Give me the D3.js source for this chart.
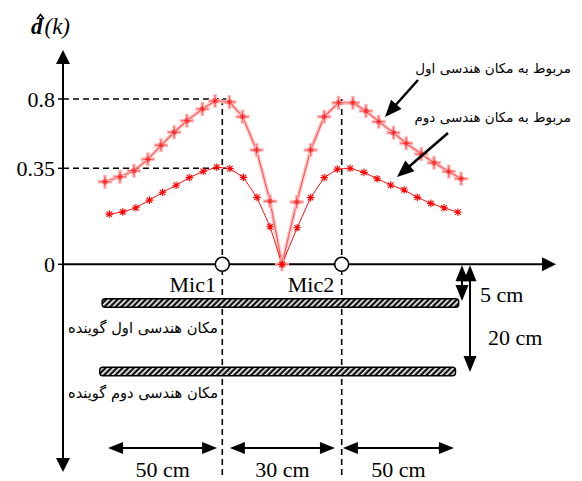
<!DOCTYPE html>
<html><head><meta charset="utf-8">
<script src="https://cdn.jsdelivr.net/npm/d3@7"></script>
<style>body{margin:0;background:#fff}svg{display:block}</style>
</head><body>
<script>
// ---- data ----
const posCurve1 = [-44.5,-40.7,-37.2,-33.7,-30.4,-27.1,-23.9,-20.0,-16.8,-13.2,-9.9,-6.4,-3.0,0,3.7,7.2,10.6,14.2,17.8,21.1,24.3,28.0,31.2,35.0,38.2,41.9,45.0];
const valCurve1 = [0.301,0.319,0.341,0.408,0.499,0.584,0.659,0.735,0.787,0.780,0.685,0.469,0.230,0,0.227,0.469,0.685,0.776,0.776,0.722,0.653,0.581,0.512,0.443,0.386,0.338,0.312];
const posCurve2 = [-43.4,-40.0,-36.7,-33.3,-30.0,-26.6,-23.3,-19.8,-16.4,-13.1,-9.7,-6.3,-3.0,0,3.8,7.2,10.6,13.9,17.1,20.6,23.9,27.3,30.7,34.0,37.4,40.7,44.2];
const valCurve2 = [0.183,0.191,0.206,0.234,0.2625,0.288,0.316,0.339,0.357,0.349,0.317,0.244,0.137,0,0.133,0.243,0.316,0.347,0.350,0.335,0.312,0.289,0.271,0.244,0.222,0.206,0.190];
const yTickValues = [0, 0.35, 0.8];
const yTickLabels = ["0", "0.35", "0.8"];
const micNames = ["Mic1", "Mic2"];
const micPos = [-15, 15];
const dimFrom = [-43.7, -13.1, 15.3];
const dimTo = [-16.3, 13.3, 43.2];
const dimLabels = ["50 cm", "30 cm", "50 cm"];
const barFrom = [-45.2, -45.8];
const barTo = [44.4, 43.6];
const barLabels = ["مکان هندسی اول گوینده", "مکان هندسی دوم گوینده"];
const curveLabels = ["مربوط به مکان هندسی اول", "مربوط به مکان هندسی دوم"];
const depthLabels = ["5 cm", "20 cm"];

// ---- layout ----
const W = 582, H = 481;
const svg = d3.select("body").append("svg").attr("width", W).attr("height", H);
const x = d3.scaleLinear().domain([-15, 15]).range([222.3, 341.7]);
const y = d3.scaleLinear().domain([0, 0.35, 0.8]).range([264.3, 168.3, 99]);
const axX = 63, axY = y(0);
const serif = "'Liberation Serif','Times New Roman',serif";
const arab = "'DejaVu Sans',sans-serif";

const defs = svg.append("defs");
const pat = defs.append("pattern").attr("id","hatch").attr("patternUnits","userSpaceOnUse")
  .attr("width",4).attr("height",4).attr("patternTransform","rotate(45)");
pat.append("rect").attr("width",4).attr("height",4).attr("fill","#111");
pat.append("rect").attr("x",0).attr("width",1.6).attr("height",4).attr("fill","#fff");

function tri(g, tx, ty, angle, len, half) {
  const bx = tx - len*Math.cos(angle), by = ty - len*Math.sin(angle);
  const px = -Math.sin(angle)*half, py = Math.cos(angle)*half;
  g.append("path").attr("d", `M${tx},${ty}L${bx+px},${by+py}L${bx-px},${by-py}Z`).attr("fill","#000");
}

// dashed guide lines
const g0 = svg.append("g").attr("stroke","#000").attr("stroke-width",1.6).attr("stroke-dasharray","6,4").attr("fill","none");
g0.append("line").attr("x1",axX).attr("x2",x(micPos[0])+4).attr("y1",y(0.8)).attr("y2",y(0.8));
g0.append("line").attr("x1",axX).attr("x2",x(micPos[0])+4).attr("y1",y(0.35)).attr("y2",y(0.35));
micPos.forEach(p => g0.append("line").attr("x1",x(p)).attr("x2",x(p)).attr("y1",y(0.8)).attr("y2",477));

// hatched bars
barFrom.forEach((b,i) => {
  const yy = [303, 371.5][i];
  svg.append("rect").attr("x",x(b)).attr("y",yy-4.3).attr("width",x(barTo[i])-x(b)).attr("height",8.6)
    .attr("rx",3).attr("fill","url(#hatch)").attr("stroke","#000").attr("stroke-width",1.4);
  svg.append("text").attr("x",218).attr("y",[333,398][i]).attr("text-anchor","end")
    .attr("font-family",arab).attr("font-size",15)
    .attr("textLength",150).attr("lengthAdjust","spacingAndGlyphs").text(barLabels[i]);
});

// axes
const ga = svg.append("g");
ga.append("line").attr("x1",axX).attr("x2",axX).attr("y1",60).attr("y2",462).attr("stroke","#000").attr("stroke-width",2);
tri(ga, axX, 50, -Math.PI/2, 14, 7);
tri(ga, axX, 472, Math.PI/2, 14, 7);
ga.append("line").attr("x1",axX).attr("x2",546).attr("y1",axY).attr("y2",axY).attr("stroke","#000").attr("stroke-width",2);
tri(ga, 556, axY, 0, 14, 7);
yTickValues.forEach((v,i) => {
  ga.append("line").attr("x1",axX-5).attr("x2",axX).attr("y1",y(v)).attr("y2",y(v)).attr("stroke","#000").attr("stroke-width",1.5);
  ga.append("text").attr("x", 55).attr("y", y(v)+7.5).attr("text-anchor","end")
    .attr("font-family",serif).attr("font-size",22).text(yTickLabels[i]);
});
// y label d-hat(k)
const yl = svg.append("text").attr("x",31).attr("y",34).attr("font-family",serif).attr("font-size",23);
yl.append("tspan").attr("font-weight","bold").attr("font-style","italic").text("d");
yl.append("tspan").attr("font-style","italic").attr("dx",2).text("(k)");
svg.append("path").attr("d","M37,19L40.5,14.5L44,19").attr("fill","none").attr("stroke","#000").attr("stroke-width",1.6);

// curves
const line = d3.line().x(d => x(d[0])).y(d => y(d[1]));
const c1 = posCurve1.map((p,i) => [p, valCurve1[i]]);
const c2 = posCurve2.map((p,i) => [p, valCurve2[i]]);
svg.append("path").attr("d", line(c1)).attr("fill","none").attr("stroke","#ffb4b4").attr("stroke-width",4).attr("opacity",0.7);
svg.append("path").attr("d", line(c1)).attr("fill","none").attr("stroke","#ff5a5a").attr("stroke-width",1.2);
svg.append("path").attr("d", line(c2)).attr("fill","none").attr("stroke","#ff1010").attr("stroke-width",1);

function plus(g, cx, cy, s, col, w) {
  g.append("path").attr("d",`M${cx-s},${cy}H${cx+s}M${cx},${cy-s}V${cy+s}`).attr("stroke",col).attr("stroke-width",w).attr("fill","none");
}
function star(g, cx, cy, s, col, w) {
  const d = s*0.72;
  g.append("path").attr("d",`M${cx-s},${cy}H${cx+s}M${cx},${cy-s}V${cy+s}M${cx-d},${cy-d}L${cx+d},${cy+d}M${cx-d},${cy+d}L${cx+d},${cy-d}`)
    .attr("stroke",col).attr("stroke-width",w).attr("fill","none");
}
const m1 = svg.append("g");
c1.forEach(d => { plus(m1, x(d[0]), y(d[1]), 7, "#ffb8b8", 3.5); plus(m1, x(d[0]), y(d[1]), 6, "#ff7878", 1.5); star(m1, x(d[0]), y(d[1]), 3, "#ff2020", 1); });
const m2 = svg.append("g");
c2.forEach(d => star(m2, x(d[0]), y(d[1]), 3.8, "#ff0000", 1.1));

// mics
micPos.forEach((p,i) => {
  svg.append("circle").attr("cx",x(p)).attr("cy",axY).attr("r",7).attr("fill","#fff").attr("stroke","#000").attr("stroke-width",1.6);
  svg.append("text").attr("x", i===0 ? 216 : 311).attr("y",292).attr("text-anchor", i===0 ? "end" : "middle")
    .attr("font-family",serif).attr("font-size",22).text(micNames[i]);
});

// depth arrows
const gd = svg.append("g");
[[462, 301, depthLabels[0], 480, 302], [470, 372, depthLabels[1], 488, 345]].forEach(a => {
  gd.append("line").attr("x1",a[0]).attr("x2",a[0]).attr("y1",axY+10).attr("y2",a[1]-10).attr("stroke","#000").attr("stroke-width",2);
  tri(gd, a[0], axY+1, -Math.PI/2, 16, 6.5);
  tri(gd, a[0], a[1], Math.PI/2, 16, 6.5);
  gd.append("text").attr("x",a[3]).attr("y",a[4]).attr("font-family",serif).attr("font-size",22).text(a[2]);
});

// bottom dimension arrows
dimFrom.forEach((f,i) => {
  const x0 = x(f), x1 = x(dimTo[i]), yy = 448;
  gd.append("line").attr("x1",x0+8).attr("x2",x1-8).attr("y1",yy).attr("y2",yy).attr("stroke","#000").attr("stroke-width",2);
  tri(gd, x0, yy, Math.PI, 15, 6);
  tri(gd, x1, yy, 0, 15, 6);
  gd.append("text").attr("x",(x0+x1)/2).attr("y",477).attr("text-anchor","middle")
    .attr("font-family",serif).attr("font-size",22).text(dimLabels[i]);
});

// curve annotations
curveLabels.forEach((t,i) => {
  svg.append("text").attr("x",571).attr("y",[73,122][i]).attr("text-anchor","end")
    .attr("font-family",arab).attr("font-size",13.5).text(t);
});
[[418,80,385,117],[448,133,397,177]].forEach(a => {
  const ang = Math.atan2(a[3]-a[1], a[2]-a[0]);
  svg.append("line").attr("x1",a[0]).attr("y1",a[1]).attr("x2",a[2]-10*Math.cos(ang)).attr("y2",a[3]-10*Math.sin(ang))
    .attr("stroke","#000").attr("stroke-width",2.5);
  tri(svg, a[2], a[3], ang, 17, 7);
});
</script>
</body></html>
